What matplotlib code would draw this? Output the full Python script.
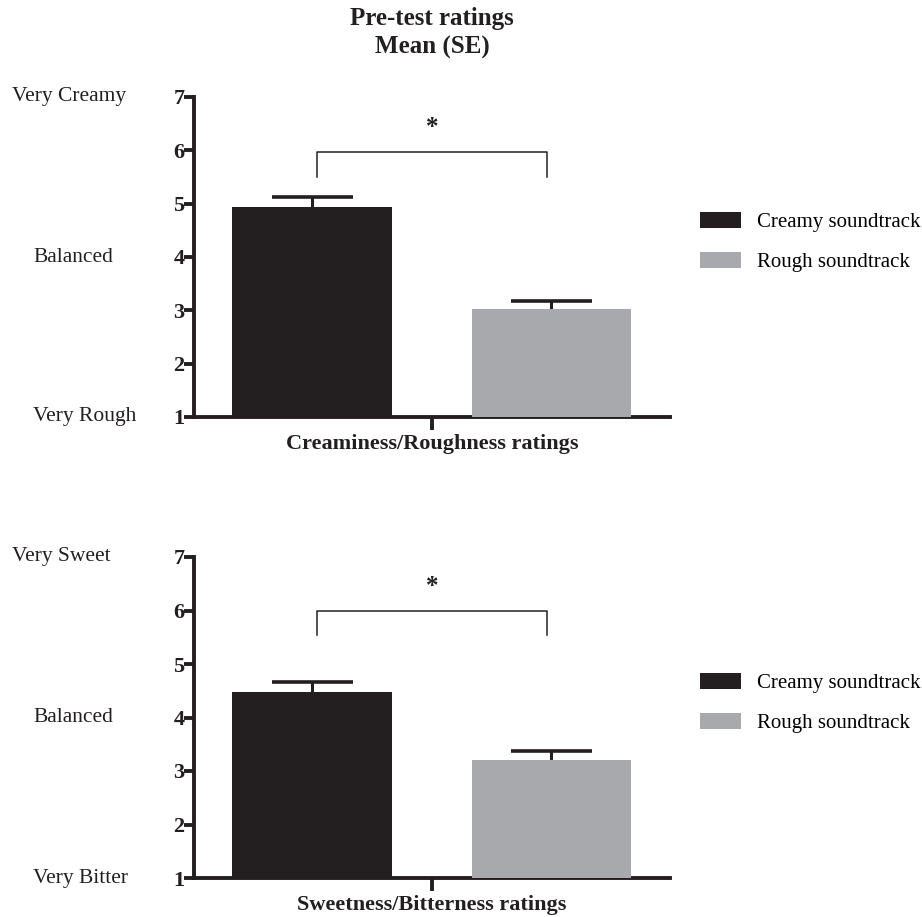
import matplotlib
matplotlib.use("Agg")
import matplotlib.pyplot as plt
import matplotlib.transforms as mtransforms
from matplotlib.patches import Patch

plt.rcParams['font.family'] = ['Liberation Serif', 'DejaVu Serif']

groups = ["Creamy soundtrack", "Rough soundtrack"]
colors = ["#231f20", "#a7a9ac"]
panel_xlabels = ["Creaminess/Roughness ratings", "Sweetness/Bitterness ratings"]
panel_anchor_labels = [["Very Rough", "Balanced", "Very Creamy"],
                       ["Very Bitter", "Balanced", "Very Sweet"]]
means = [[4.94, 3.02], [4.48, 3.21]]
ses = [[0.18, 0.15], [0.18, 0.16]]
bracket_y = [5.97, 5.99]
bracket_drop = [5.5, 5.55]
yticks = [1, 2, 3, 4, 5, 6, 7]

W, H = 922, 917
fig = plt.figure(figsize=(W / 100, H / 100), dpi=100)

axes_boxes = [(194, 97, 670, 417), (194, 557, 670, 878)]
anchor_x = [[33, 33, 12], [33, 33, 12]]
legend_cy = [242, 703]
ink = "#231f20"

fig.text(432 / W, 1 - 18 / H, "Pre-test ratings", ha="center", va="center",
         fontsize=18, fontweight="bold", color=ink)
fig.text(432 / W, 1 - 47 / H, "Mean (SE)", ha="center", va="center",
         fontsize=18, fontweight="bold", color=ink)

for i, (x0, y0, x1, y1) in enumerate(axes_boxes):
    ax = fig.add_axes([x0 / W, 1 - y1 / H, (x1 - x0) / W, (y1 - y0) / H])
    xs = [0, 1]
    ax.bar(xs, [m - 1 for m in means[i]], bottom=1, width=0.668, color=colors, zorder=3)
    for x, m, s in zip(xs, means[i], ses[i]):
        ax.vlines(x, m - 0.05, m + s, color=ink, lw=2.2, zorder=2)
        ax.hlines(m + s, x - 0.169, x + 0.169, color=ink, lw=2.6, zorder=2)
    ax.set_xlim(-0.493, 1.495)
    ax.set_ylim(1, 7)
    ax.set_yticks(yticks)
    ax.set_yticklabels([str(t) for t in yticks], fontweight="bold", fontsize=16)
    ax.set_xticks([0.5])
    ax.set_xticklabels([""])
    ax.tick_params(axis="y", direction="out", length=7, width=2.8, pad=0, colors=ink)
    ax.tick_params(axis="x", direction="out", length=9, width=2.8, colors=ink)
    for sp in ["top", "right"]:
        ax.spines[sp].set_visible(False)
    for sp in ["left", "bottom"]:
        ax.spines[sp].set_linewidth(2.8)
        ax.spines[sp].set_color(ink)
    ax.set_xlabel(panel_xlabels[i], fontweight="bold", fontsize=16, labelpad=0, color=ink)
    # significance bracket
    ax.plot([0.02, 0.02, 0.98, 0.98],
            [bracket_drop[i], bracket_y[i], bracket_y[i], bracket_drop[i]],
            color=ink, lw=1.1, clip_on=False)
    ax.text(0.5, bracket_y[i] + 0.46, "*", ha="center", va="center",
            fontsize=18, fontweight="bold", color=ink)
    # side anchor labels
    tr = mtransforms.blended_transform_factory(fig.transFigure, ax.transData)
    for lab, yv, xp in zip(panel_anchor_labels[i], [1, 4, 7], anchor_x[i]):
        ax.text(xp / W, yv, lab, transform=tr, ha="left", va="center",
                fontsize=15.5, color=ink)
    handles = [Patch(facecolor=c, edgecolor="none") for c in colors]
    ax.legend(handles, groups, loc="center left",
              bbox_to_anchor=(700 / W, 1 - legend_cy[i] / H),
              bbox_transform=fig.transFigure, frameon=False, fontsize=15,
              borderpad=0, borderaxespad=0,
              handlelength=1.95, handleheight=0.8, handletextpad=0.8, labelspacing=0.95)

fig.savefig("out.png", dpi=100)
